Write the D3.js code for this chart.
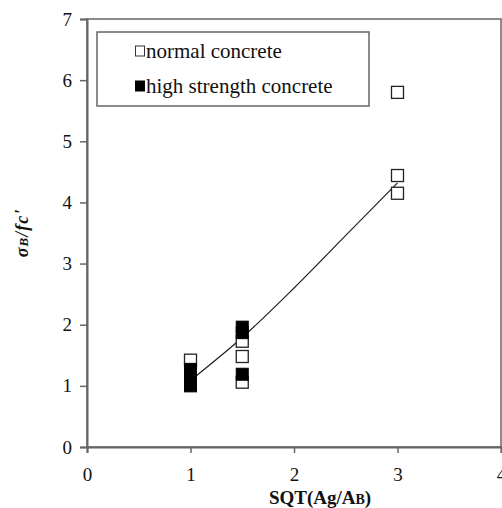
<!DOCTYPE html>
<html><head><meta charset="utf-8">
<script src="https://cdn.jsdelivr.net/npm/d3@7"></script>
</head>
<body style="margin:0;background:#fff"><svg id="c" width="502" height="508" font-family="Liberation Serif"></svg>
<script>
const FONT = "Liberation Serif";
const xTicks = [0,1,2,3,4];
const yTicks = [0,1,2,3,4,5,6,7];
const normalX = [1, 1.5, 1.5, 1.5, 3, 3, 3];
const normalY = [1.42, 1.73, 1.48, 1.06, 5.80, 4.44, 4.15];
const highX = [1, 1, 1, 1, 1.5, 1.5, 1.5];
const highY = [1.0, 1.1, 1.2, 1.27, 1.96, 1.87, 1.19];
const trendX = [1.06, 1.5, 2.0, 2.5, 3.0];
const trendY = [1.17, 1.79, 2.6, 3.46, 4.32];
const legendLabels = ["normal concrete", "high strength concrete"];

const svg = d3.select("#c");
const x = d3.scaleLinear().domain([0,4]).range([87,501]);
const y = d3.scaleLinear().domain([0,7]).range([447,19]);
const axisCol = "#666";

svg.append("rect").attr("x",x(0)).attr("y",y(7)).attr("width",x(4)-x(0)).attr("height",y(0)-y(7))
  .attr("fill","none").attr("stroke",axisCol).attr("stroke-width",1.5);

const ya = svg.append("g").attr("transform",`translate(${x(0)},0)`)
  .call(d3.axisLeft(y).tickValues(yTicks).tickSize(7).tickPadding(8).tickFormat(d3.format("d")));
ya.attr("font-family",FONT).attr("font-size",19);
ya.select(".domain").attr("stroke",axisCol).attr("stroke-width",2);
ya.selectAll(".tick line").attr("stroke",axisCol).attr("stroke-width",1.5);
ya.selectAll(".tick text").attr("font-family",FONT).attr("font-size",19).attr("fill","#111");

const xa = svg.append("g").attr("transform",`translate(0,${y(0)})`)
  .call(d3.axisBottom(x).tickValues(xTicks).tickSize(6).tickPadding(15).tickFormat(d3.format("d")));
xa.attr("font-family",FONT).attr("font-size",19);
xa.select(".domain").attr("stroke",axisCol).attr("stroke-width",2);
xa.selectAll(".tick line").attr("stroke",axisCol).attr("stroke-width",1.5);
xa.selectAll(".tick text").attr("font-family",FONT).attr("font-size",19).attr("fill","#111");

const tdata = trendX.map((v,i)=>[v,trendY[i]]);
svg.append("path").datum(tdata)
  .attr("d", d3.line().x(d=>x(d[0])).y(d=>y(d[1])).curve(d3.curveMonotoneX))
  .attr("fill","none").attr("stroke","#222").attr("stroke-width",1.2);

const s = 12;
svg.append("g").selectAll("rect").data(normalX.map((v,i)=>[v,normalY[i]])).join("rect")
  .attr("x",d=>x(d[0])-s/2).attr("y",d=>y(d[1])-s/2).attr("width",s).attr("height",s)
  .attr("fill","#fff").attr("stroke","#222").attr("stroke-width",1.3);
svg.append("g").selectAll("rect").data(highX.map((v,i)=>[v,highY[i]])).join("rect")
  .attr("x",d=>x(d[0])-s/2).attr("y",d=>y(d[1])-s/2).attr("width",s).attr("height",s)
  .attr("fill","#000").attr("stroke","#000").attr("stroke-width",1);

svg.append("rect").attr("x",97).attr("y",32).attr("width",272).attr("height",74)
  .attr("fill","#fff").attr("stroke",axisCol).attr("stroke-width",1.5);
const lg = svg.append("g");
legendLabels.forEach((t,i)=>{
  const yy = [58, 93][i];
  lg.append("rect").attr("x",135.5).attr("y",yy-12).attr("width",9).attr("height",10)
    .attr("fill", i===0?"#fff":"#000").attr("stroke", i===0?"#333":"#000").attr("stroke-width",1);
  lg.append("text").attr("x",146).attr("y",yy).attr("font-family",FONT).attr("font-size",21).attr("fill","#111").text(t);
});

const xt = svg.append("text").attr("x",320).attr("y",504).attr("text-anchor","middle")
  .attr("font-family",FONT).attr("font-size",19).attr("font-weight","bold").attr("fill","#111");
xt.append("tspan").text("SQT(Ag/A");
xt.append("tspan").attr("font-size",14).text("B");
xt.append("tspan").text(")");

const yt = svg.append("text").attr("transform","translate(28,233) rotate(-90)").attr("text-anchor","middle")
  .attr("font-family",FONT).attr("font-size",18).attr("font-weight","bold").attr("font-style","italic")
  .attr("letter-spacing",1).attr("fill","#111");
yt.append("tspan").text("σ");
yt.append("tspan").attr("font-size",13).text("B");
yt.append("tspan").text("/fc'");
</script>
</body></html>
